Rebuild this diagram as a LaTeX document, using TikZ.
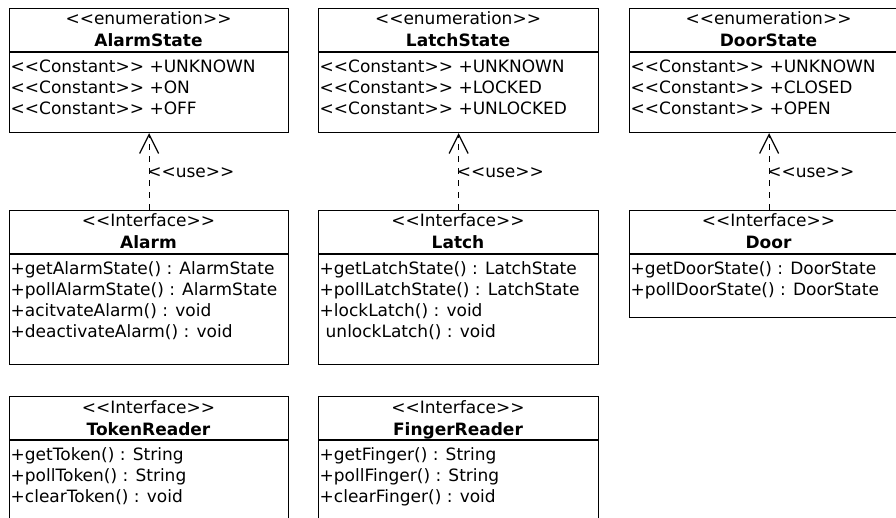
\documentclass[tikz,border=0pt]{standalone}
\usepackage{fontspec}
\setmainfont{DejaVu Sans}[Ligatures=TeXOff]
\usetikzlibrary{arrows.meta,calc}

\tikzset{
  umlbox/.style={draw, line width=1.2pt, rectangle, inner sep=0pt, anchor=north west},
  stereo/.style={font=\fontsize{17}{21}\selectfont, inner sep=0pt, anchor=base},
  classname/.style={font=\fontsize{17}{21}\selectfont\bfseries, inner sep=0pt, anchor=base},
  member/.style={font=\fontsize{17}{21}\selectfont, inner sep=0pt, anchor=base west},
  divider/.style={line width=1.2pt},
  usedep/.style={line width=1.2pt, dash pattern=on 6pt off 6pt,
    -{Straight Barb[length=19pt,width=19pt,line width=1.2pt]}},
  uselabel/.style={font=\fontsize{17}{21}\selectfont, inner sep=0pt, anchor=base west}
}

% \umlclass{name}{left}{top}{width}{height}{stereotype}{title}{member list}
\newcommand{\umlclass}[8]{%
  \node[umlbox, minimum width=#4pt, minimum height=#5pt] (#1) at (#2,#3) {};
  \node[stereo] (#1-st) at ($(#2,#3)+(#4/2,17)$) {#6};
  \node[classname] (#1-nm) at ($(#2,#3)+(#4/2,39)$) {#7};
  \draw[divider] ($(#2,#3)+(0,44)$) coordinate (#1-dl) -- ($(#2,#3)+(#4,44)$) coordinate (#1-dr);
  \foreach \txt [count=\i] in {#8} {
    \node[member] (#1-m\i) at ($(#2,#3)+(1.5,44+20.5+21*\i-21)$) {\txt};
  }%
}

\begin{document}
\begin{tikzpicture}[x=1pt, y=-1pt]
  \useasboundingbox (0,0) rectangle (896,518);
  \clip (0,0) rectangle (896,518);

  % enumerations
  \umlclass{alarmstate}{9}{8}{279}{124}{<<enumeration>>}{AlarmState}
    {<<Constant>> +UNKNOWN, <<Constant>> +ON, <<Constant>> +OFF}
  \umlclass{latchstate}{318}{8}{280}{124}{<<enumeration>>}{LatchState}
    {<<Constant>> +UNKNOWN, <<Constant>> +LOCKED, <<Constant>> +UNLOCKED}
  \umlclass{doorstate}{629}{8}{279}{124}{<<enumeration>>}{DoorState}
    {<<Constant>> +UNKNOWN, <<Constant>> +CLOSED, <<Constant>> +OPEN}

  % interfaces
  \umlclass{alarm}{9}{210}{279}{154}{<<Interface>>}{Alarm}
    {+getAlarmState() : AlarmState, +pollAlarmState() : AlarmState,
     +acitvateAlarm() : void, +deactivateAlarm() : void}
  \umlclass{latch}{318}{210}{280}{154}{<<Interface>>}{Latch}
    {+getLatchState() : LatchState, +pollLatchState() : LatchState,
     +lockLatch() : void, \hspace*{6pt}unlockLatch() : void}
  \umlclass{door}{629}{210}{279}{107}{<<Interface>>}{Door}
    {+getDoorState() : DoorState, +pollDoorState() : DoorState}

  \umlclass{tokenreader}{9}{396}{279}{154}{<<Interface>>}{TokenReader}
    {+getToken() : String, +pollToken() : String, +clearToken() : void}
  \umlclass{fingerreader}{318}{396}{280}{154}{<<Interface>>}{FingerReader}
    {+getFinger() : String, +pollFinger() : String, +clearFinger() : void}

  % usage dependencies
  \draw[usedep] (alarm.north) -- (alarmstate.south);
  \draw[usedep] (latch.north) -- (latchstate.south);
  \draw[usedep] (door.north) -- (doorstate.south);

  \node[uselabel] (use1) at ($(alarm.north)+(-2,-32.5)$) {<<use>>};
  \node[uselabel] (use2) at ($(latch.north)+(-2,-32.5)$) {<<use>>};
  \node[uselabel] (use3) at ($(door.north)+(-2,-32.5)$) {<<use>>};
\end{tikzpicture}
\end{document}
